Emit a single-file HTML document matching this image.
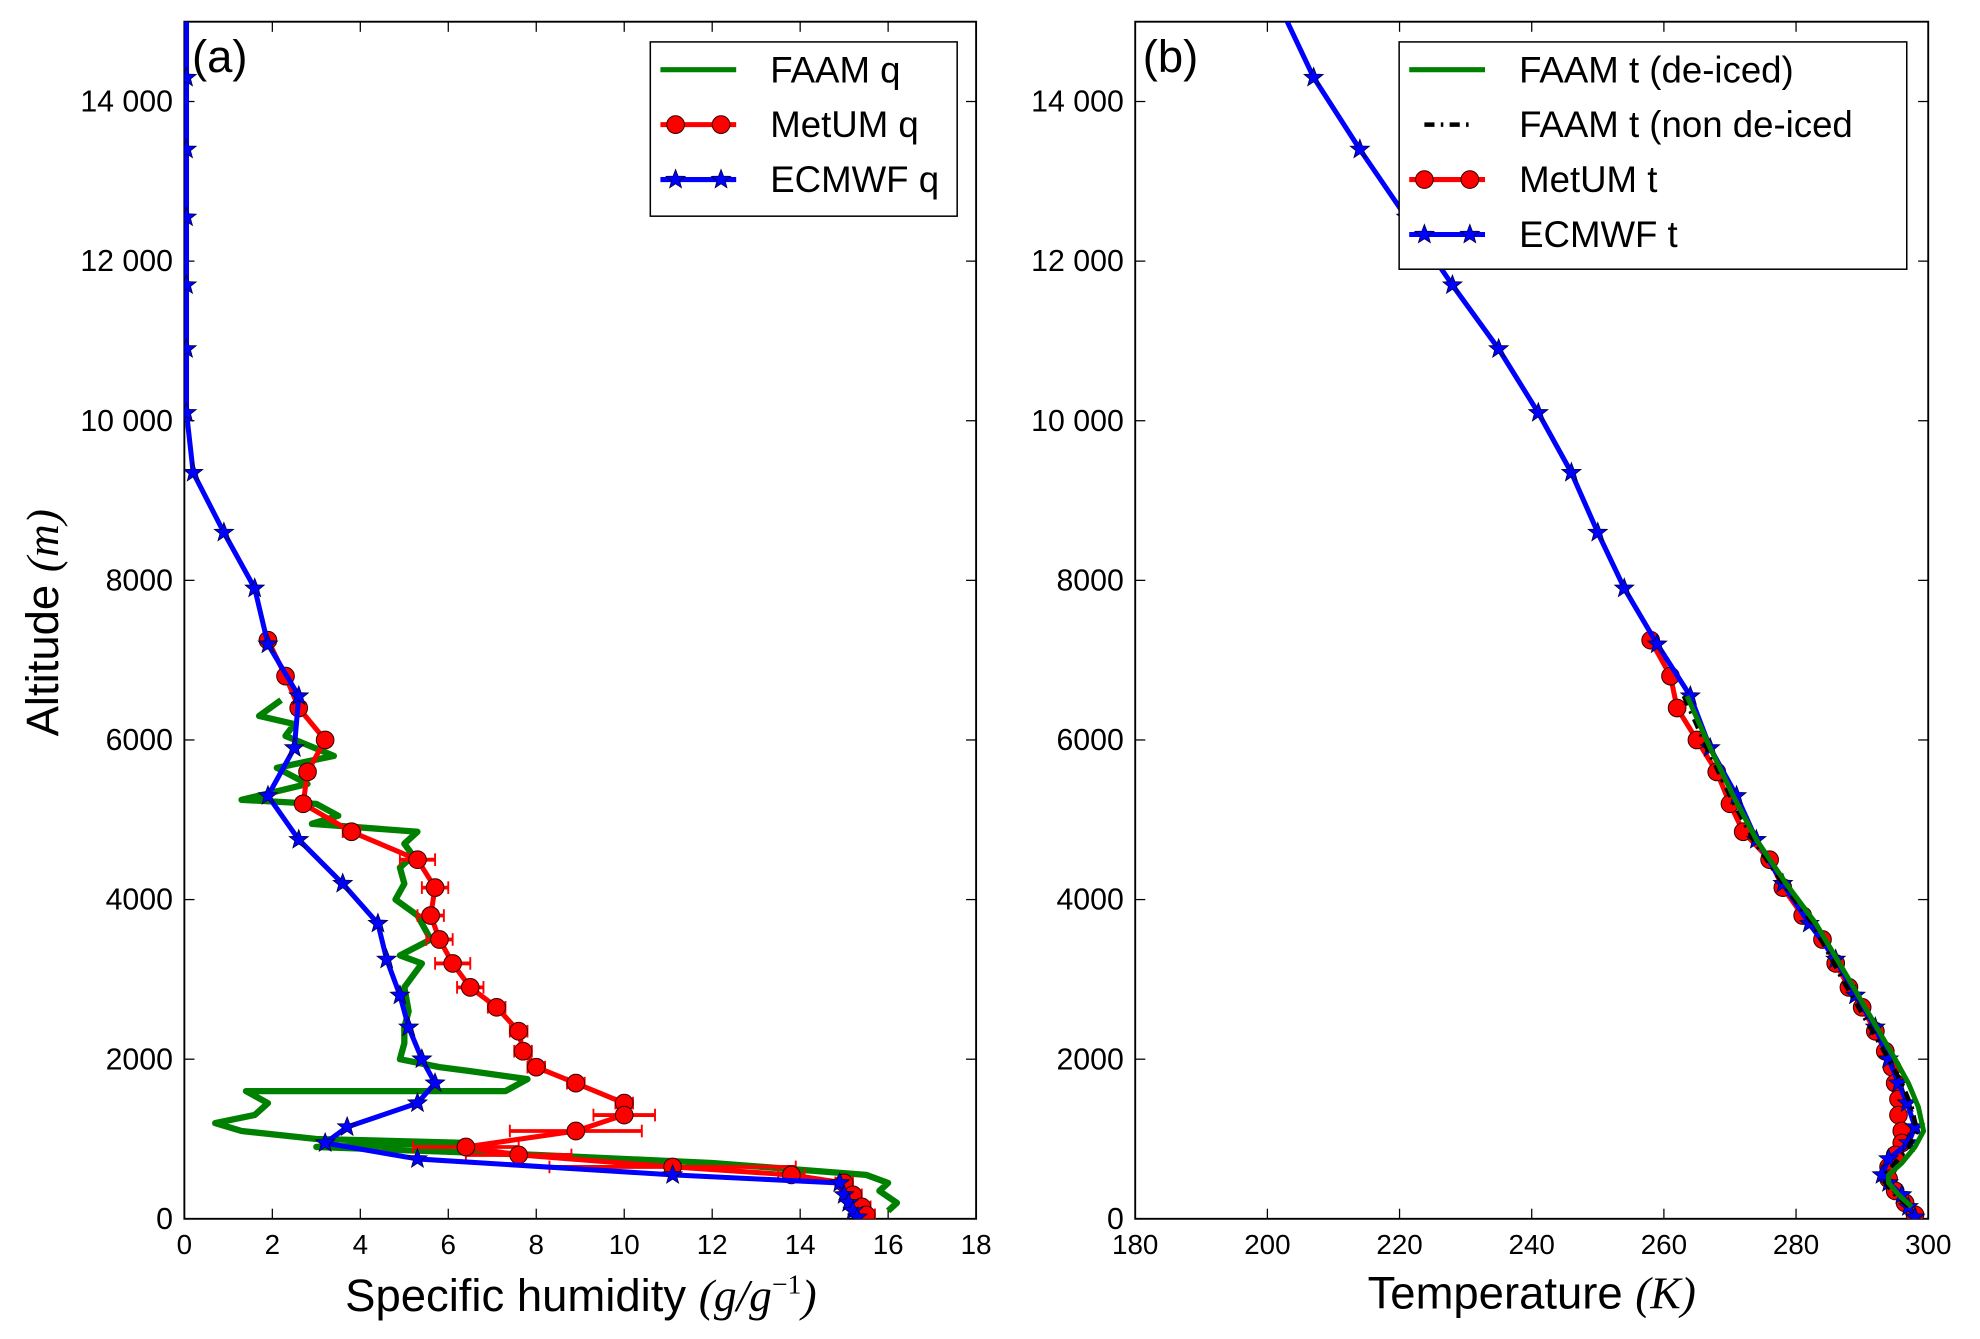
<!DOCTYPE html>
<html><head><meta charset="utf-8"><style>
html,body{margin:0;padding:0;background:#fff;}
svg{display:block;font-family:"Liberation Sans",sans-serif;}
</style></head><body>
<svg id="c" width="1980" height="1339" viewBox="0 0 1568 1060" xmlns="http://www.w3.org/2000/svg"></svg>
<script>
// ---- panel (a) data: specific humidity ----
const ecQ   = [0.05,0.05,0.05,0.05,0.05,0.05,0.05,0.2,0.9,1.6,1.9,2.6,2.5,1.9,2.6,3.6,4.4,4.6,4.9,5.1,5.4,5.7,5.3,3.7,3.2,5.3,11.1,14.9,15.0,15.1,15.2,15.3];
const ecQz  = [15000,14300,13400,12550,11700,10900,10100,9350,8600,7900,7200,6550,5900,5300,4750,4200,3700,3250,2800,2400,2000,1700,1450,1150,950,750,550,450,300,200,100,20];
const umQ   = [1.9,2.3,2.6,3.2,2.8,2.7,3.8,5.3,5.7,5.6,5.8,6.1,6.5,7.1,7.6,7.7,8.0,8.9,10.0,10.0,8.9,6.4,7.6,11.1,13.8,15.0,15.2,15.4,15.5];
const umQz  = [7250,6800,6400,6000,5600,5200,4850,4500,4150,3800,3500,3200,2900,2650,2350,2100,1900,1700,1450,1300,1100,900,800,650,550,450,300,150,50];
const umQerr= [0.1,0.1,0.15,0.1,0.15,0.15,0.2,0.4,0.3,0.3,0.3,0.4,0.3,0.2,0.2,0.2,0.2,0.2,0.2,0.7,1.5,1.2,1.2,2.8,0.3,0.2,0.2,0.2,0.2];
const faQ   = [2.2,1.7,2.5,2.3,3.4,2.1,2.8,1.3,3.0,3.5,2.9,5.3,5.0,5.2,4.9,5.0,4.8,5.3,5.6,4.9,5.4,5.0,5.1,5.0,5.0,4.9,5.8,6.5,7.8,7.3,1.4,1.9,1.6,0.7,1.3,3.0,6.5,3.0,8.0,12.0,15.5,16.0,15.8,16.2,16.0];
const faQz  = [6500,6300,6200,6050,5800,5650,5450,5250,5200,5050,4950,4850,4700,4550,4400,4200,4000,3800,3500,3300,3200,2900,2600,2400,2200,2000,1900,1850,1750,1600,1600,1450,1300,1200,1100,1000,950,900,800,700,550,450,350,200,100];
// ---- panel (b) data: temperature ----
const ecT   = [203,207,214,221,228,235,241,246,250,254,259,264,267,271,274,278,282,286,289,292,294,295.5,296.8,298,297,294,293,294,296,297,298];
const ecTz  = [15000,14300,13400,12550,11700,10900,10100,9350,8600,7900,7200,6550,5900,5300,4750,4200,3700,3250,2800,2400,2000,1700,1450,1150,950,750,550,450,300,150,20];
const umT   = [258,261,262,265,268,270,272,276,278,281,284,286,288,290,292,293.5,294.5,295,295.5,295.5,296,296,295,294,294,295,296.5,298];
const umTz  = [7250,6800,6400,6000,5600,5200,4850,4500,4150,3800,3500,3200,2900,2650,2350,2100,1900,1700,1500,1300,1100,950,800,650,500,350,200,50];
const faT   = [263.5,267,270.5,274,278.5,283,288,291.5,295,297,298.5,299.3,298,296,294,294,295.5,297.5];
const faTz  = [6550,5900,5300,4750,4200,3700,3000,2500,2000,1700,1400,1100,900,700,550,450,300,150];
const ndT   = [263,266.5,270,273.5,278,282.5,287,290.5,294,296,297.5,298.3,297,295,293.5,293.5,295,297];
const ndTz  = [6550,5900,5300,4750,4200,3700,3000,2500,2000,1700,1400,1100,900,700,550,450,300,150];
const yTicks = [0,2000,4000,6000,8000,10000,12000,14000];
const yTickLabels = ["0","2000","4000","6000","8000","10 000","12 000","14 000"];
const xTicksA = [0,2,4,6,8,10,12,14,16,18];
const xTicksB = [180,200,220,240,260,280,300];

const svg=document.getElementById('c');
const NS='http://www.w3.org/2000/svg';
function mk(tag,attrs,parent){const e=document.createElementNS(NS,tag);for(const k in attrs)e.setAttribute(k,attrs[k]);(parent||svg).appendChild(e);return e;}
const PTOP=17,PBOT=965;
function yS(v){return PBOT-(v/15000)*(PBOT-PTOP);}
function panel(L,R,x0,x1){return v=>L+(v-x0)/(x1-x0)*(R-L);}
const xA=panel(146,773,0,18), xB=panel(899,1527,180,300);

function star(g,cx,cy,r,fill){let p=[];for(let i=0;i<10;i++){const a=-Math.PI/2+i*Math.PI/5;const rr=i%2?r*0.42:r;p.push((cx+rr*Math.cos(a)).toFixed(1)+','+(cy+rr*Math.sin(a)).toFixed(1));}
 const s=mk('polygon',{points:p.join(' '),fill:fill,stroke:'#000033','stroke-width':0.6},g);return s;}
function line(g,xs,zs,xf,color,w,dash){const pts=xs.map((v,i)=>xf(v).toFixed(1)+','+yS(zs[i]).toFixed(1)).join(' ');
 const a={points:pts,fill:'none',stroke:color,'stroke-width':w,'stroke-linejoin':'round'};if(dash)a['stroke-dasharray']=dash;return mk('polyline',a,g);}

function axes(L,R,xf,xt,tag){
 const g=mk('g',{});
 
 
 mk('rect',{x:L,y:PTOP,width:R-L,height:PBOT-PTOP,fill:'none',stroke:'#000','stroke-width':1.5},g);
 yTicks.forEach((v,i)=>{const y=yS(v);
  mk('line',{x1:L,x2:L+8,y1:y,y2:y,stroke:'#000','stroke-width':1},g);
  mk('line',{x1:R,x2:R-8,y1:y,y2:y,stroke:'#000','stroke-width':1},g);
  const t=mk('text',{x:L-9,y:y+8,'font-size':24,'text-anchor':'end'},g);t.textContent=yTickLabels[i];
  
  
 });
 xt.forEach(v=>{const x=xf(v);
  mk('line',{x1:x,x2:x,y1:PBOT,y2:PBOT-8,stroke:'#000','stroke-width':1},g);
  mk('line',{x1:x,x2:x,y1:PTOP,y2:PTOP+8,stroke:'#000','stroke-width':1},g);
  const t=mk('text',{x:x,y:PBOT+28,'font-size':22,'text-anchor':'middle'},g);t.textContent=v;
  
  
 });
 return g;
}
axes(146,773,xA,xTicksA,'panel-a');
axes(899,1527,xB,xTicksB,'panel-b');

const defs=mk('defs',{});
const clipA=mk('clipPath',{id:'ca'},defs);mk('rect',{x:146,y:PTOP,width:627,height:PBOT-PTOP},clipA);
const clipB=mk('clipPath',{id:'cb'},defs);mk('rect',{x:899,y:PTOP,width:628,height:PBOT-PTOP},clipB);
const gA=mk('g',{'clip-path':'url(#ca)'});


const fq=line(gA,faQ,faQz,xA,'#008000',5);


umQ.forEach((v,i)=>{const y=yS(umQz[i]);const e=mk('g',{},gA);
 mk('line',{x1:xA(v-umQerr[i]),x2:xA(v+umQerr[i]),y1:y,y2:y,stroke:'#f00','stroke-width':3},e);
 mk('line',{x1:xA(v+umQerr[i]),x2:xA(v+umQerr[i]),y1:y-5,y2:y+5,stroke:'#f00','stroke-width':1.5},e);
 mk('line',{x1:xA(v-umQerr[i]),x2:xA(v-umQerr[i]),y1:y-5,y2:y+5,stroke:'#f00','stroke-width':1.5},e);
 
 
});
const uq=line(gA,umQ,umQz,xA,'#f00',4);


umQ.forEach((v,i)=>{const c=mk('circle',{cx:xA(v),cy:yS(umQz[i]),r:7,fill:'#f00',stroke:'#300','stroke-width':0.8},gA);
 
 });
const eq=line(gA,ecQ,ecQz,xA,'#00f',4);


ecQ.forEach((v,i)=>{if(i===0)return;const s=star(gA,xA(v),yS(ecQz[i]),8,'#00f');
 
 });

const gB=mk('g',{'clip-path':'url(#cb)'});


const ut=line(gB,umT,umTz,xB,'#f00',4);


umT.forEach((v,i)=>{const c=mk('circle',{cx:xB(v),cy:yS(umTz[i]),r:7,fill:'#f00',stroke:'#300','stroke-width':0.8},gB);
 
 });
const et=line(gB,ecT,ecTz,xB,'#00f',4);


ecT.forEach((v,i)=>{if(i===0)return;const s=star(gB,xB(v),yS(ecTz[i]),8,'#00f');
 
 });
const nd=line(gB,ndT,ndTz,xB,'#000',3.5,'8 5 2 5');


const ft=line(gB,faT,faTz,xB,'#008000',4);



function legend(x,y,w,h,items,name){
 const g=mk('g',{});
 
 
 mk('rect',{x:x,y:y,width:w,height:h,fill:'#fff',stroke:'#000','stroke-width':1.2},g);
 items.forEach((it,i)=>{const cy=y+22+i*43.5;const lx=x+8,rx=x+68;
  if(it.type==='dot') mk('line',{x1:lx+12,x2:rx-10,y1:cy,y2:cy,stroke:'#000','stroke-width':3.5,'stroke-dasharray':'8 5 2 5'},g);
  else mk('line',{x1:lx,x2:rx,y1:cy,y2:cy,stroke:it.c,'stroke-width':4},g);
  if(it.type==='circ'){mk('circle',{cx:lx+12,cy:cy,r:7,fill:'#f00',stroke:'#300','stroke-width':0.8},g);mk('circle',{cx:rx-12,cy:cy,r:7,fill:'#f00',stroke:'#300','stroke-width':0.8},g);}
  if(it.type==='star'){star(g,lx+12,cy,8,'#00f');star(g,rx-12,cy,8,'#00f');}
  const t=mk('text',{x:x+95,y:cy+10,'font-size':29},g);t.textContent=it.t;
  
  
 });
}
legend(515,33,243,138,[{c:'#008000',t:'FAAM q'},{c:'#f00',type:'circ',t:'MetUM q'},{c:'#00f',type:'star',t:'ECMWF q'}],'legend-a');
legend(1108,33,402,180,[{c:'#008000',t:'FAAM t (de-iced)'},{type:'dot',t:'FAAM t (non de-iced'},{c:'#f00',type:'circ',t:'MetUM t'},{c:'#00f',type:'star',t:'ECMWF t'}],'legend-b');
</script>
<svg style="position:absolute;left:0;top:0" width="1980" height="1339" viewBox="0 0 1568 1060" xmlns="http://www.w3.org/2000/svg" font-family="Liberation Sans, sans-serif">
 <text x="152" y="57" font-size="36">(a)</text>
 <text x="905" y="57" font-size="36">(b)</text>
 <text transform="translate(46,493) rotate(-90)" font-size="36" text-anchor="middle">Altitude <tspan font-family="Liberation Serif, serif" font-style="italic">(m)</tspan></text>
 <text x="460" y="1038" font-size="36" text-anchor="middle">Specific humidity <tspan font-family="Liberation Serif, serif" font-style="italic">(g/g</tspan><tspan font-family="Liberation Serif, serif" font-size="22" dy="-14">−1</tspan><tspan font-family="Liberation Serif, serif" font-style="italic" dy="14">)</tspan></text>
 <text x="1213" y="1036" font-size="36" text-anchor="middle">Temperature <tspan font-family="Liberation Serif, serif" font-style="italic">(K)</tspan></text>
</svg>
</body></html>
